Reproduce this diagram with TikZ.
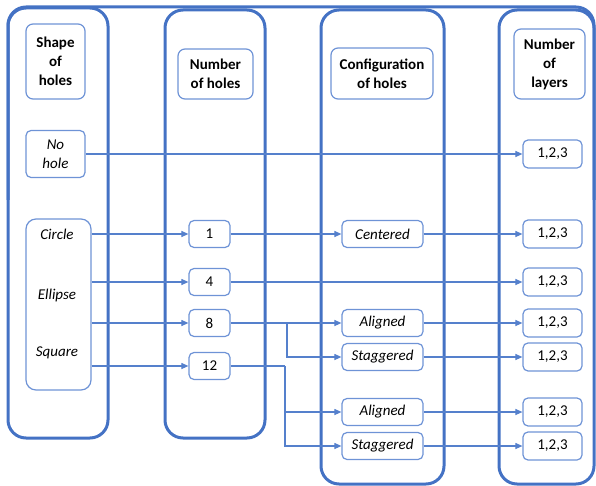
\documentclass[tikz,border=0pt]{standalone}
\usepackage{fontspec}
\setmainfont{Carlito}
\usetikzlibrary{arrows.meta}
\definecolor{cBlue}{HTML}{4472C4}
\definecolor{cLight}{HTML}{6E93D6}
\definecolor{cArrow}{HTML}{5580CC}
\tikzset{
  col/.style={draw=cBlue, line width=3pt, rounded corners=18pt},
  hbox/.style={draw=cLight, line width=1.2pt, rounded corners=7pt, align=center, inner sep=0pt,
    font=\fontsize{15}{19}\selectfont\bfseries},
  ibox/.style={draw=cLight, line width=1.2pt, rounded corners=5pt, align=center, inner sep=0pt,
    font=\fontsize{15}{19}\selectfont\itshape},
  nbox/.style={draw=cLight, line width=1.2pt, rounded corners=5pt, align=center, inner sep=0pt,
    font=\fontsize{15}{19}\selectfont, minimum width=41pt, minimum height=27pt},
  cbox/.style={ibox, minimum width=81pt, minimum height=27pt},
  lbox/.style={draw=cLight, line width=1.2pt, rounded corners=5pt, align=center, inner sep=0pt,
    font=\fontsize{15}{19}\selectfont, minimum width=59pt, minimum height=28pt},
  itext/.style={font=\fontsize{15}{19}\selectfont\itshape, inner sep=0pt},
  conn/.style={draw=cArrow, line width=1.1pt},
  arr/.style={conn, -{Triangle[length=7pt,width=6pt]}}
}
\begin{document}
\begin{tikzpicture}[x=1pt,y=-1pt]
\useasboundingbox (0,0) rectangle (596,486);
% columns
\draw[col] (8,8) rectangle (108,438);
\draw[col] (165,10) rectangle (265,438);
\draw[col] (321,10) rectangle (444,484);
\draw[col] (499,10) rectangle (594,484);
\draw[col] (8,200) -- (8,7) -- (594,7) -- (594,200);
% column 1
\node[hbox, minimum width=59pt, minimum height=75pt] (h1) at (55.5,61.5) {Shape\\of\\holes};
\node[ibox, minimum width=59pt, minimum height=47pt] (nohole) at (55.5,154) {No\\hole};
\node[draw=cLight, line width=1.2pt, rounded corners=10pt, minimum width=65pt, minimum height=171pt, inner sep=0pt] (shapes) at (58.5,304.5) {};
\node[itext] (circle) at (57,234) {Circle};
\node[itext] (ellipse) at (57,295) {Ellipse};
\node[itext] (square) at (57,353) {Square};
% column 2
\node[hbox, minimum width=75pt, minimum height=50pt] (h2) at (215.5,74) {Number\\of holes};
\node[nbox] (n1) at (209.5,234) {1};
\node[nbox] (n4) at (209.5,282) {4};
\node[nbox] (n8) at (209.5,323) {8};
\node[nbox] (n12) at (209.5,366) {12};
% column 3
\node[hbox, minimum width=102pt, minimum height=51pt] (h3) at (382,73.5) {Configuration\\of holes};
\node[cbox] (cent) at (382.5,234) {Centered};
\node[cbox] (al1) at (382.5,323) {Aligned};
\node[cbox] (st1) at (382.5,357) {Staggered};
\node[cbox] (al2) at (382.5,412) {Aligned};
\node[cbox] (st2) at (382.5,446) {Staggered};
% column 4
\node[hbox, minimum width=71pt, minimum height=70pt] (h4) at (549.5,64) {Number\\of\\layers};
\node[lbox] (l0) at (552.5,154) {1,2,3};
\node[lbox] (l1) at (552.5,234) {1,2,3};
\node[lbox] (l2) at (552.5,282) {1,2,3};
\node[lbox] (l3) at (552.5,323) {1,2,3};
\node[lbox] (l4) at (552.5,357) {1,2,3};
\node[lbox] (l5) at (552.5,412) {1,2,3};
\node[lbox] (l6) at (552.5,446) {1,2,3};
% connectors
\coordinate (b1) at (287,323);
\coordinate (b2) at (285,366);
\draw[arr] (nohole) -- (l0);
\draw[arr] (shapes.east |- n1) -- (n1);
\draw[arr] (n1) -- (cent);
\draw[arr] (cent) -- (l1);
\draw[arr] (shapes.east |- n4) -- (n4);
\draw[arr] (n4) -- (l2);
\draw[arr] (shapes.east |- n8) -- (n8);
\draw[arr] (n8) -- (al1);
\draw[arr] (al1) -- (l3);
\draw[arr] (b1) |- (st1);
\draw[arr] (st1) -- (l4);
\draw[arr] (shapes.east |- n12) -- (n12);
\draw[conn] (n12) -- (b2);
\draw[arr] (b2) |- (al2);
\draw[arr] (b2) |- (st2);
\draw[arr] (al2) -- (l5);
\draw[arr] (st2) -- (l6);
\end{tikzpicture}
\end{document}
